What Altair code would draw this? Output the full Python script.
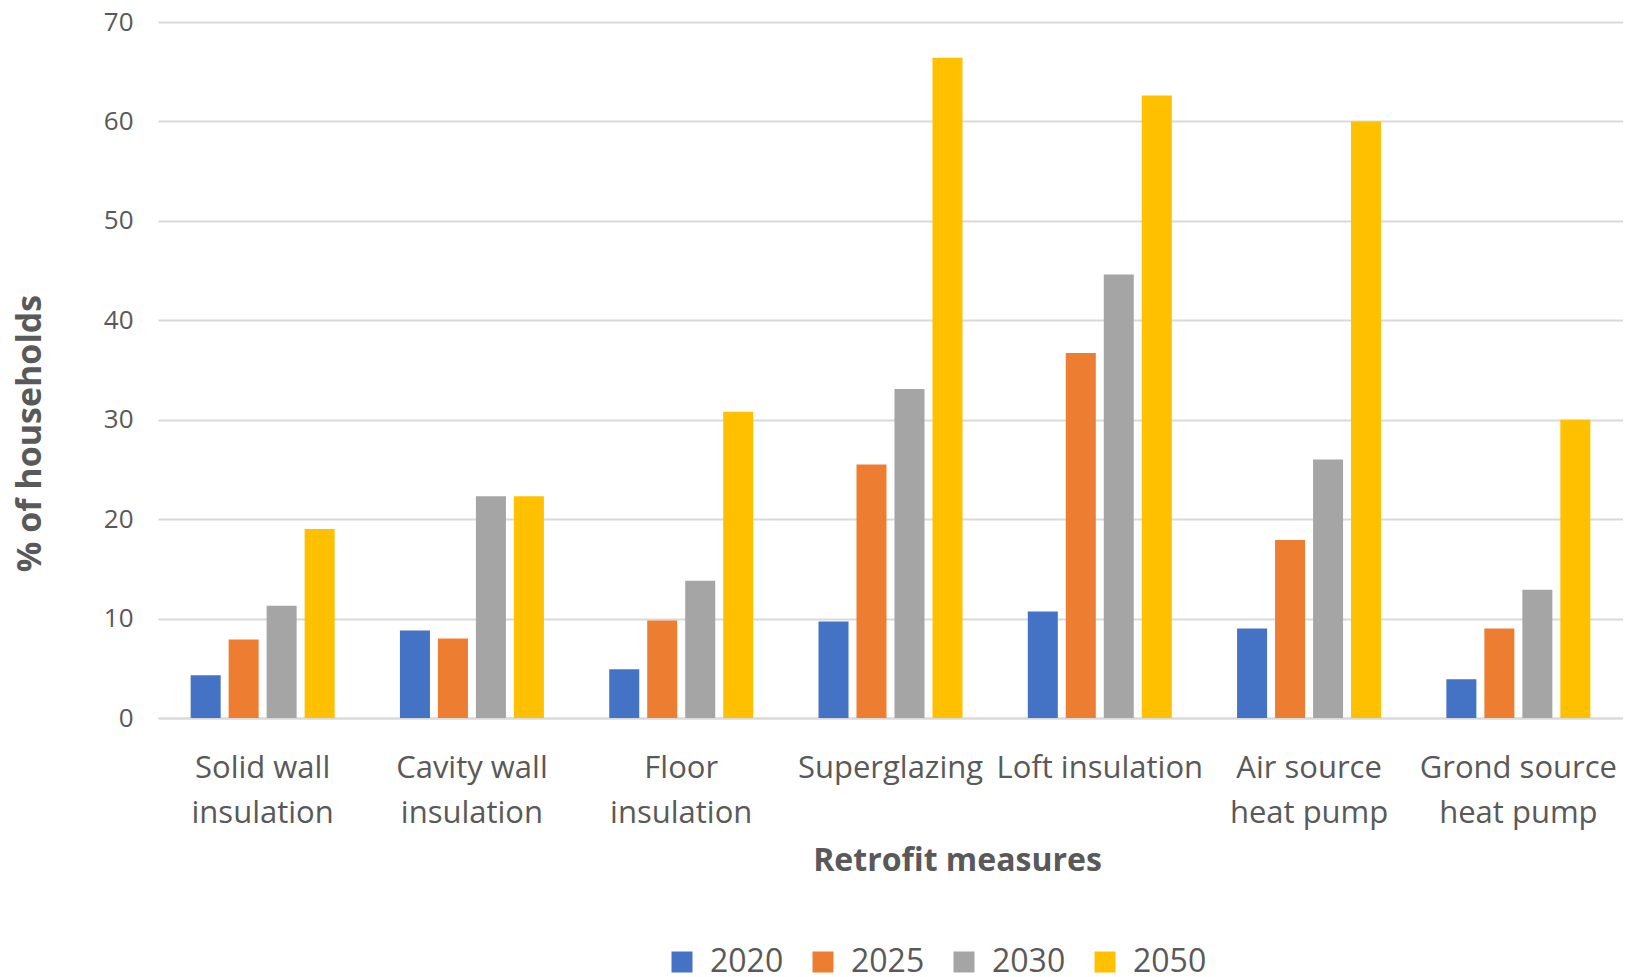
import altair as alt
import pandas as pd

categories = ["Solid wall insulation", "Cavity wall insulation", "Floor insulation",
              "Superglazing", "Loft insulation", "Air source heat pump", "Grond source heat pump"]
label_lines = [["Solid wall", "insulation"], ["Cavity wall", "insulation"], ["Floor", "insulation"],
               ["Superglazing"], ["Loft insulation"], ["Air source", "heat pump"], ["Grond source", "heat pump"]]
years = ["2020", "2025", "2030", "2050"]
v2020 = [4.3, 8.8, 4.9, 9.7, 10.7, 9.0, 3.9]
v2025 = [7.9, 8.0, 9.8, 25.5, 36.7, 17.9, 9.0]
v2030 = [11.3, 22.3, 13.8, 33.1, 44.6, 26.0, 12.9]
v2050 = [19.0, 22.3, 30.8, 66.4, 62.6, 60.0, 30.0]
colors = ["#4472C4", "#ED7D31", "#A5A5A5", "#FFC000"]

rows = []
for yr, vals in zip(years, [v2020, v2025, v2030, v2050]):
    for c, v in zip(categories, vals):
        rows.append({"measure": c, "year": yr, "value": v})
df = pd.DataFrame(rows)

expr = ""
for c, lines in zip(categories, label_lines):
    arr = "[" + ",".join("'" + l + "'" for l in lines) + "]"
    expr += f"datum.label == '{c}' ? {arr} : "
expr += "datum.label"

font = "Open Sans"
W, H = 1465, 696
chart = alt.Chart(df).mark_bar().encode(
    x=alt.X("measure:N", sort=categories,
            scale=alt.Scale(paddingInner=0.312, paddingOuter=0.156),
            axis=alt.Axis(title="Retrofit measures", labelAngle=0, labelExpr=expr,
                          labelFontSize=31, labelColor="#595959", labelFont=font,
                          labelLineHeight=45, labelPadding=35, labelBaseline="top",
                          labelLimit=0, labelOverlap=False,
                          ticks=False, domainColor="#d9d9d9", domainWidth=2,
                          titleFontSize=32, titleFont=font, titleFontWeight="bold",
                          titleColor="#595959", titleX=799, titleY=142,
                          titleBaseline="middle", titleAlign="center")),
    xOffset=alt.XOffset("year:N", sort=years, scale=alt.Scale(paddingInner=0.21)),
    y=alt.Y("value:Q", scale=alt.Scale(domain=[0, 70]),
            axis=alt.Axis(title="% of households", values=list(range(0, 71, 10)),
                          labelFontSize=26, labelColor="#595959", labelFont=font,
                          labelPadding=25, ticks=False, domain=False,
                          gridColor="#d9d9d9", gridWidth=2,
                          titleFontSize=34, titleFont=font, titleFontWeight="bold",
                          titleColor="#595959", titleX=-128, titleY=411,
                          titleBaseline="middle", titleAlign="center", titleAngle=270)),
    color=alt.Color("year:N", sort=years, scale=alt.Scale(domain=years, range=colors),
                    legend=alt.Legend(title=None, orient="none", direction="horizontal",
                                      legendX=508, legendY=924,
                                      symbolType="square", symbolSize=441, symbolStrokeWidth=0,
                                      labelFontSize=32, labelFont=font, labelColor="#595959",
                                      labelOffset=12, columnPadding=23, symbolOffset=0)),
).properties(
    width=W, height=H,
    autosize=alt.AutoSizeParams(type="none"),
    padding={"left": 150, "top": 14, "right": 0, "bottom": 262},
).configure_view(stroke=None)

chart.save("out.html", embed_options={"renderer": "svg", "actions": False})
